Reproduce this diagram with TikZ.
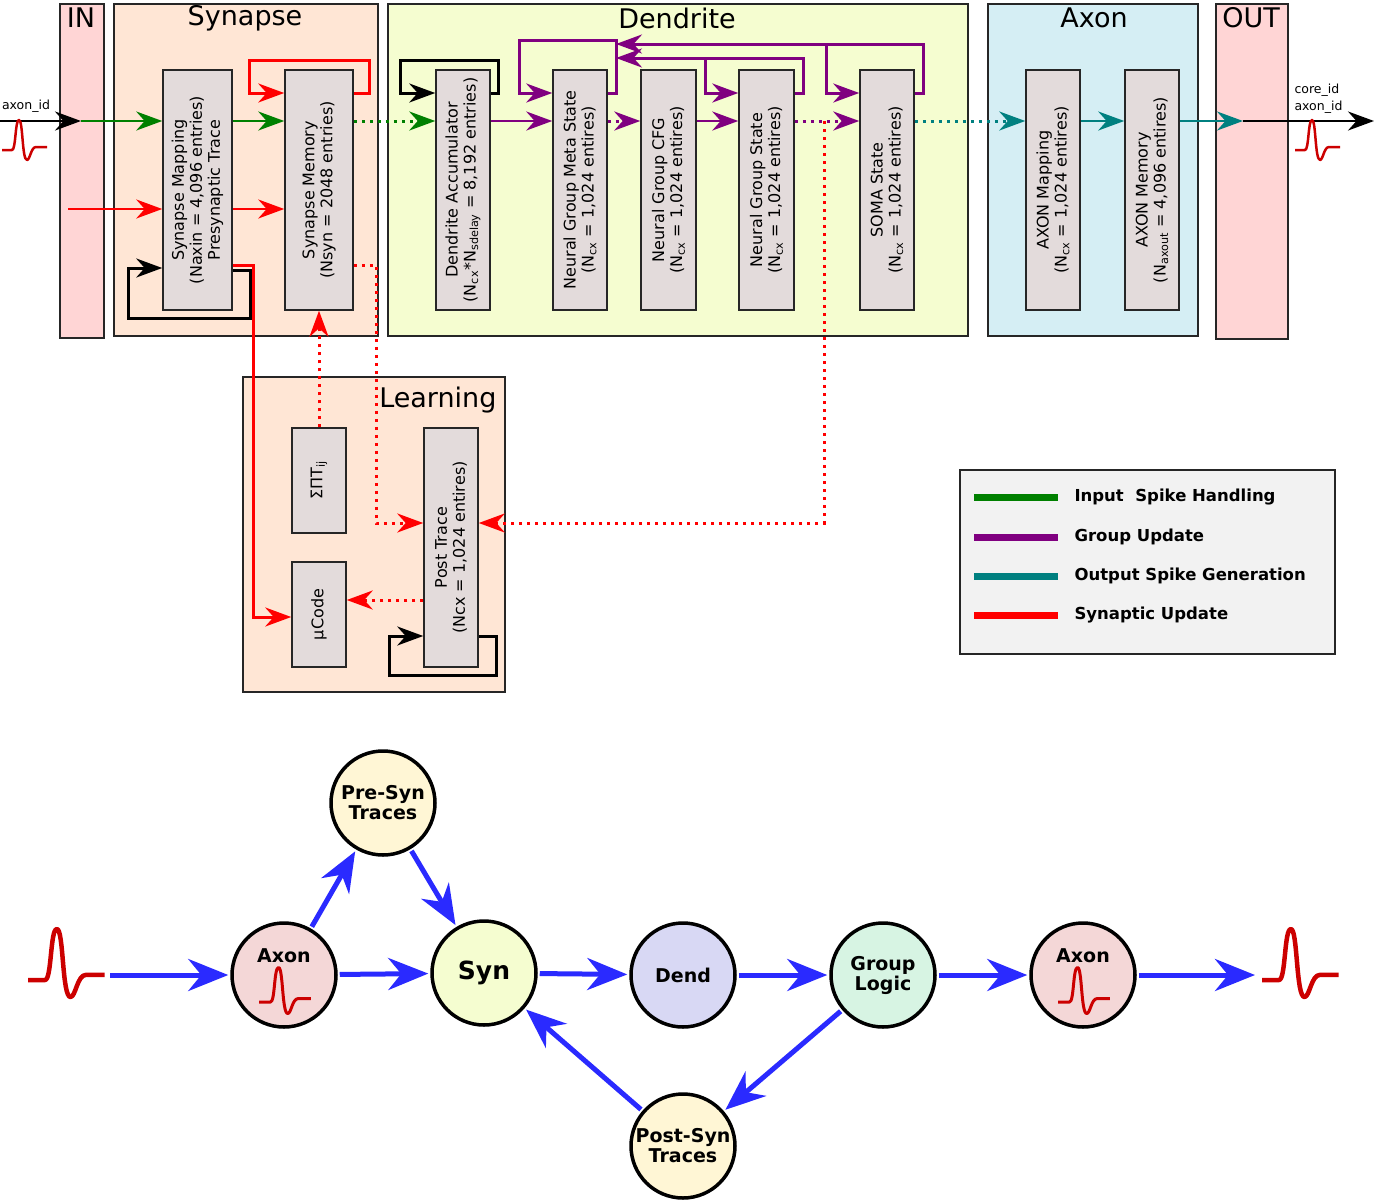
\documentclass[tikz,border=0pt]{standalone}
\usepackage{fontspec}
\setmainfont{DejaVu Sans}
\usetikzlibrary{arrows.meta,calc}
\definecolor{inpink}{HTML}{FFD5D5}
\definecolor{peach}{HTML}{FFE6D5}
\definecolor{lime}{HTML}{F5FDD0}
\definecolor{sky}{HTML}{D5EEF4}
\definecolor{boxgray}{HTML}{E3DBDB}
\definecolor{lgray}{HTML}{F2F2F2}
\definecolor{gr}{HTML}{008000}
\definecolor{pu}{HTML}{800080}
\definecolor{te}{HTML}{008080}
\definecolor{bl}{HTML}{2A2AFF}
\definecolor{spk}{HTML}{CC0000}
\begin{document}
\begin{tikzpicture}[x=1pt,y=-1pt,
  region/.style={draw=black!85,line width=1.5pt},
  box/.style={draw=black!85,fill=boxgray,line width=1.5pt,inner sep=0pt},
  btxt/.style={rotate=90,align=center,font=\fontsize{16}{18}\selectfont,inner sep=0pt},
  title/.style={font=\fontsize{27}{30}\selectfont,anchor=north},
  arr/.style={line width=2.5pt,-{Stealth[length=26pt,width=19pt]}},
  dot/.style={line width=3pt,dash pattern=on 3pt off 5pt},
  loop/.style={line width=3pt,-{Stealth[length=26pt,width=19pt]}},
  circ/.style={circle,draw=black,line width=3.5pt,minimum size=104pt,inner sep=0pt,align=center,font=\fontsize{19}{20}\selectfont\bfseries},
  barr/.style={bl,line width=5pt,-{Stealth[length=40pt,width=32pt]},shorten >=2pt,shorten <=2pt},
  spike/.style={spk,line width=2.5pt,line join=round},
  spike/.pic={\draw[pic actions] (0,0)--(10,0) .. controls (14,0) and (13,-30) .. (17,-30) .. controls (21,-30) and (20,10) .. (25,10) .. controls (28,10) and (29,-3) .. (34,-3) -- (45,-3);}
]
\useasboundingbox (0,0) rectangle (1374,1200);
% regions
\node[region,fill=inpink,minimum width=44pt,minimum height=334pt,anchor=north west] (inr) at (59,3) {};
\node[title] at (81,4) {IN};
\node[region,fill=peach,minimum width=264pt,minimum height=332pt,anchor=north west] (synr) at (113,3) {};
\node[title] at (245,2) {Synapse};
\node[region,fill=lime,minimum width=580pt,minimum height=332pt,anchor=north west] (dendr) at (387,3) {};
\node[title] at (677,4) {Dendrite};
\node[region,fill=sky,minimum width=210pt,minimum height=332pt,anchor=north west] (axr) at (987,3) {};
\node[title] at (1094,4) {Axon};
\node[region,fill=inpink,minimum width=72pt,minimum height=335pt,anchor=north west] (outr) at (1215,3) {};
\node[title] at (1251,4) {OUT};
\node[region,fill=peach,minimum width=262pt,minimum height=315pt,anchor=north west] (learn) at (242,376) {};
\node[title,anchor=north east] at (500,383) {Learning};
% inner boxes
\newcommand{\bx}[6]{\node[box,minimum width=#4pt,minimum height=#5pt] (#1) at (#2,#3) {};\node[btxt] at (#1) {#6};}
\bx{smap}{197.5}{190}{69}{240}{Synapse Mapping\\(Naxin = 4,096 entries)\\Presynaptic Trace}
\bx{smem}{319}{190}{68}{240}{Synapse Memory\\(Nsyn = 2048 entries)}
\bx{dacc}{463}{190}{54}{240}{Dendrite Accumulator\\(N\textsubscript{cx}*N\textsubscript{sdelay} = 8,192 entries)}
\bx{ngm}{580}{190}{54}{240}{Neural Group Meta State\\(N\textsubscript{cx} = 1,024 entires)}
\bx{ngc}{668.5}{190}{55}{240}{Neural Group CFG\\(N\textsubscript{cx} = 1,024 entires)}
\bx{ngs}{766.5}{190}{55}{240}{Neural Group State\\(N\textsubscript{cx} = 1,024 entires)}
\bx{soma}{887}{190}{54}{240}{SOMA State\\(N\textsubscript{cx} = 1,024 entires)}
\bx{axm}{1053}{190}{54}{240}{AXON Mapping\\(N\textsubscript{cx} = 1,024 entires)}
\bx{axmem}{1152}{190}{54}{240}{AXON Memory\\(N\textsubscript{axout} = 4,096 entires)}
\bx{sig}{319}{480.5}{54}{105}{ΣΠT\textsubscript{ij}}
\bx{ucode}{319}{614.5}{54}{105}{µCode}
\bx{post}{451}{547.5}{54}{239}{Post Trace\\(Ncx = 1,024 entires)}
% input
\coordinate (inL) at (0,121);
\coordinate (inA) at (81,121);
\draw[arr] (inL) -- (inA);
\node[font=\fontsize{12.5}{14}\selectfont] at (26,106) {axon\_id};
\pic[spike] at (2,150) {spike};
\draw[arr,gr] (inA) -- (smap.west |- inA);
\draw[arr,gr] (smap.east |- inA) -- (smem.west |- inA);
\draw[arr,gr,dot] (smem.east |- inA) -- (dacc.west |- inA);
\coordinate (rL) at (68,209);
\draw[arr,red] (rL) -- (smap.west |- rL);
\draw[arr,red] (smap.east |- rL) -- (smem.west |- rL);
% loops
\draw[loop,red] (smem.east |- 0,93) -- (369,93) -- (369,60) -- (249,60) -- (249,93) -- (smem.west |- 0,93);
\draw[loop,black] (smap.east |- 0,270) -- (250,270) -- (250,318) -- (128,318) -- (128,268) -- (smap.west |- 0,268);
\draw[loop,red] (smap.east |- 0,265) -- (253,265) -- (253,617) -- (ucode.west |- 0,617);
\draw[loop,red,dot] (smem.east |- 0,265) -- (376,265) -- (376,523) -- (post.west |- 0,523);
\draw[loop,red,dot] (sig.north) -- (smem.south);
\draw[loop,red,dot] (824,121) -- (824,523) -- (post.east |- 0,523);
\draw[loop,red,dot] (post.west |- 0,600) -- (ucode.east |- 0,600);
\draw[loop,black] (post.east |- 0,636) -- (496,636) -- (496,675) -- (389,675) -- (389,636) -- (post.west |- 0,636);
\draw[loop,black] (dacc.east |- 0,93) -- (498,93) -- (498,60) -- (400,60) -- (400,93) -- (dacc.west |- 0,93);
% purple
\draw[arr,pu] (dacc.east |- inA) -- (ngm.west |- inA);
\draw[arr,pu,dot] (ngm.east |- inA) -- (ngc.west |- inA);
\draw[arr,pu] (ngc.east |- inA) -- (ngs.west |- inA);
\draw[arr,pu,dot] (ngs.east |- inA) -- (soma.west |- inA);
\draw[loop,pu] (ngm.east |- 0,93) -- (616,93) -- (616,40) -- (519,40) -- (519,93) -- (ngm.west |- 0,93);
\draw[loop,pu] (ngs.east |- 0,93) -- (803,93) -- (803,58) -- (616,58);
\draw[loop,pu] (705,58) -- (705,93) -- (ngs.west |- 0,93);
\draw[loop,pu] (soma.east |- 0,93) -- (923,93) -- (923,44) -- (616,44);
\draw[loop,pu] (826,44) -- (826,93) -- (soma.west |- 0,93);
% teal
\draw[arr,te,dot] (soma.east |- inA) -- (axm.west |- inA);
\draw[arr,te] (axm.east |- inA) -- (axmem.west |- inA);
\coordinate (outA) at (1243,121);
\coordinate (outR) at (1374,121);
\draw[arr,te] (axmem.east |- inA) -- (outA);
\draw[arr] (outA) -- (outR);
\node[font=\fontsize{12.5}{14}\selectfont,anchor=west] at (1291,90) {core\_id};
\node[font=\fontsize{12.5}{14}\selectfont,anchor=west] at (1291,107) {axon\_id};
\pic[spike] at (1295,150) {spike};
% legend
\node[draw=black!85,line width=1.5pt,fill=lgray,minimum width=375pt,minimum height=184pt,anchor=north west] (leg) at (959,469) {};
\foreach \y/\c/\t in {497/gr/Input\ \ Spike Handling,537/pu/Group Update,576/te/Output Spike Generation,615/red/Synaptic Update}{
  \draw[\c,line width=7pt] (974,\y) -- (1058,\y);
  \node[anchor=west,font=\fontsize{16.5}{18}\selectfont\bfseries] at (1071,\y) {\t};
}
% bottom graph
\node[circ,fill={rgb,255:red,255;green,246;blue,213}] (pre) at (383,803) {Pre-Syn\\Traces};
\node[circ,fill={rgb,255:red,244;green,215;blue,215}] (ax1) at (284,975) {};
\node[font=\fontsize{19}{18}\selectfont\bfseries] at (284,956) {Axon};
\pic[spike,scale=1.15,line width=3pt] at (259,1002) {spike};
\node[circ,fill=lime,font=\fontsize{25}{24}\selectfont\bfseries] (syn) at (484,973) {Syn};
\node[circ,fill={rgb,255:red,216;green,216;blue,244}] (dend) at (683,975) {Dend};
\node[circ,fill={rgb,255:red,215;green,244;blue,227}] (gl) at (883,975) {Group\\Logic};
\node[circ,fill={rgb,255:red,244;green,215;blue,215}] (ax2) at (1083,975) {};
\node[font=\fontsize{19}{18}\selectfont\bfseries] at (1083,956) {Axon};
\pic[spike,scale=1.15,line width=3pt] at (1058,1002) {spike};
\node[circ,fill={rgb,255:red,255;green,246;blue,213}] (post2) at (683,1146) {Post-Syn\\Traces};
\coordinate (sL) at (108,975);
\coordinate (sR) at (1257,975);
\pic[spike,scale=1.7,line width=4.5pt] at (28,980) {spike};
\pic[spike,scale=1.7,line width=4.5pt] at (1262,980) {spike};
\draw[barr] (sL) -- (ax1);
\draw[barr] (ax1) -- (pre);
\draw[barr] (pre) -- (syn);
\draw[barr] (ax1) -- (syn);
\draw[barr] (syn) -- (dend);
\draw[barr] (dend) -- (gl);
\draw[barr] (gl) -- (ax2);
\draw[barr] (ax2) -- (sR);
\draw[barr] (gl) -- (post2);
\draw[barr] (post2) -- (syn);
\end{tikzpicture}
\end{document}
